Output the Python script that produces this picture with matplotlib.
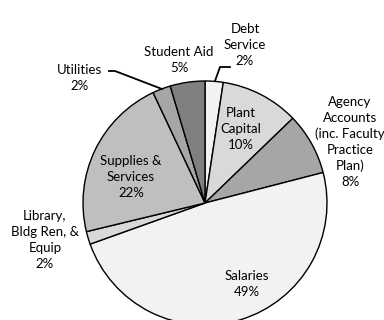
import matplotlib.pyplot as plt

categories = ["Debt\nService", "Plant\nCapital", "Agency\nAccounts\n(inc. Faculty\nPractice\nPlan)",
              "Salaries", "Library,\nBldg Ren, &\nEquip", "Supplies &\nServices",
              "Utilities", "Student Aid"]
shares = [2.4, 10.4, 8.2, 48.6, 1.7, 21.8, 2.4, 4.6]
colors = ["#f2f2f2", "#d9d9d9", "#a6a6a6", "#f2f2f2", "#d9d9d9", "#bfbfbf", "#a6a6a6", "#808080"]

# label anchor positions in pixel coords (x, y from top)
label_pos = [(245, 45), (241, 129), (350, 142), (247, 284), (45, 240), (131, 177), (80, 78), (179, 60)]

W, H = 384, 320
plt.rcParams['font.family'] = ['Lato', 'DejaVu Sans']
fig = plt.figure(figsize=(3.84, 3.2), dpi=100)
ax = fig.add_axes([0, 0, 1, 1])

ax.pie(shares, colors=colors, startangle=90, counterclock=False,
       center=(205, H - 203), radius=122,
       wedgeprops=dict(edgecolor="black", linewidth=1.0))

total = sum(shares)
for name, v, (px, py) in zip(categories, shares, label_pos):
    pct = round(v / total * 100)
    ax.text(px, H - py, f"{name}\n{pct}%", ha="center", va="center", fontsize=9.5,
            linespacing=1.38, color="black")

# leader lines
ax.plot([215, 220, 230], [H - 81, H - 67, H - 67], color="black", lw=1.3)
ax.plot([109, 115, 162], [H - 71, H - 71, H - 89], color="black", lw=1.3)

ax.set_xlim(0, W)
ax.set_ylim(0, H)
ax.set_aspect("equal")
ax.axis("off")
fig.savefig("out.png", dpi=100)
